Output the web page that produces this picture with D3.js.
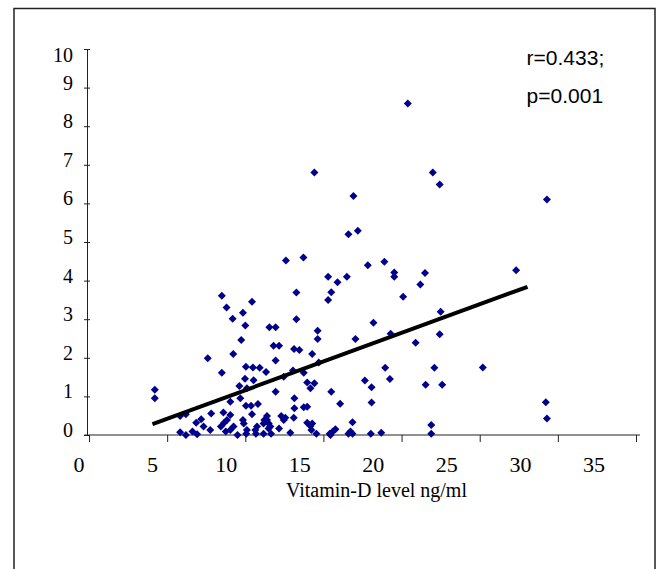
<!DOCTYPE html>
<html>
<head>
    <meta charset="utf-8">
    <title>Vitamin-D level scatter</title>
    <style>
        body { margin: 0; background: #fff; }
    </style>
</head>
<body>
    <svg class="chart"></svg>
    <script src="https://cdn.jsdelivr.net/npm/d3@7/dist/d3.min.js"></script>
    <script>
        var width = 659, height = 569

        // vitamin-D level (ng/ml) of each subject
        const vitD = [
            20.4, 14.42, 22.0, 22.44, 16.92, 29.3, 16.6, 17.2, 12.6, 13.72,
            17.84, 18.9, 19.53, 19.53, 21.5, 27.33, 15.3, 16.5, 15.9, 21.2,
            15.5, 15.3, 20.1, 22.5, 18.2, 19.3, 22.44, 20.9, 17.05, 18.95,
            22.1, 25.2, 17.65, 19.25, 18.08, 21.54, 22.6, 18.08, 29.23, 29.3,
            21.9, 21.9, 18.03, 18.7, 15.5, 16.07, 16.86, 16.73, 16.86, 16.6,
            15.77, 15.45, 15.6,
            8.5, 8.8, 9.85, 9.19, 10.0, 10.43, 9.74, 9.23, 7.6, 8.5,
            10.04, 10.49, 10.92, 11.33, 9.98, 10.53, 9.62, 10.1, 11.94, 11.54,
            11.94, 11.81, 12.16, 11.94, 12.46, 13.27, 13.27, 13.12, 13.46, 14.28,
            14.63, 14.63, 13.05, 13.74, 13.96, 14.17, 14.42, 14.7, 4.21, 4.21,
            9.68, 10.04, 10.37, 10.81, 9.04, 7.82, 8.6, 9.04, 7.18, 6.86,
            6.2, 5.83, 7.33, 7.76, 6.92, 6.2, 5.83, 6.62, 8.44, 8.65,
            8.83, 9.25, 9.04, 9.5, 9.85, 9.9, 10.1, 10.06, 10.43, 10.75,
            10.68, 11.17, 11.39, 11.39, 11.5, 11.6, 11.65, 12.16, 12.3, 12.56,
            12.88, 13.1, 13.14, 13.14, 13.74, 13.96, 13.96, 14.17, 14.28, 14.55,
            15.4, 12.46, 11.22, 11.17, 11.49, 10.64, 14.23, 8.75
        ]
        // matching y values
        const outcome = [
            8.59, 6.80, 6.80, 6.49, 6.19, 6.10, 5.20, 5.29, 4.52, 4.60,
            4.40, 4.49, 4.21, 4.10, 4.20, 4.27, 4.10, 4.10, 3.96, 3.90,
            3.70, 3.50, 3.58, 3.19, 2.91, 2.62, 2.61, 2.39, 2.49, 1.74,
            1.74, 1.75, 1.41, 1.45, 1.24, 1.30, 1.30, 0.84, 0.85, 0.43,
            0.26, 0.03, 0.03, 0.06, 1.12, 0.81, 0.33, 0.09, 0.03, 0.03,
            0.15, 0.0, 0.09,
            3.61, 3.30, 3.17, 3.01, 2.84, 3.45, 2.46, 2.10, 1.99, 1.61,
            1.77, 1.75, 1.74, 1.63, 1.46, 1.42, 1.27, 1.21, 1.12, 2.79,
            2.79, 2.31, 2.31, 1.93, 1.51, 3.69, 3.00, 2.23, 2.20, 2.10,
            2.70, 2.49, 1.67, 1.61, 1.36, 1.21, 1.34, 1.88, 1.17, 0.95,
            0.95, 0.76, 0.76, 0.80, 0.86, 0.56, 0.58, 0.52, 0.41, 0.32,
            0.54, 0.49, 0.22, 0.13, 0.02, 0.0, 0.07, 0.09, 0.22, 0.32,
            0.39, 0.22, 0.13, 0.0, 0.39, 0.30, 0.13, 0.03, 0.54, 0.22,
            0.03, 0.03, 0.39, 0.49, 0.30, 0.22, 0.03, 0.17, 0.49, 0.45,
            0.06, 0.45, 0.69, 0.95, 0.72, 0.73, 0.32, 0.23, 0.30, 0.03,
            0.03, 0.39, 0.39, 0.30, 0.17, 0.13, 0.13, 0.09
        ]

        // fitted trend line end points
        const fitX = [4.06, 28.06]
        const fitY = [0.28, 3.84]

        const xTicks = [0, 5, 10, 15, 20, 25, 30, 35]
        const yTicks = [0, 1, 2, 3, 4, 5, 6, 7, 8, 9, 10]
        const stats = ["r=0.433;", "p=0.001"]

        var svg = d3.select(".chart")
            .attr("width", width)
            .attr("height", height)

        // outer frame
        svg.append("rect")
            .attr("x", 14)
            .attr("y", 8.5)
            .attr("width", 641)
            .attr("height", 580)
            .attr("fill", "none")
            .attr("stroke", "#222")
            .attr("stroke-width", 1.5)

        var x = d3.scaleLinear().domain([0, 35]).range([89, 636])
        var y = d3.scaleLinear().domain([0, 10]).range([435, 49])
        // the tick labels sit a little off the tick marks in the original
        var xLabel = d3.scaleLinear().domain([0, 35]).range([79, 594])

        // x axis
        var gx = svg.append("g")
            .attr("transform", `translate(0, ${y(0)})`)
            .call(d3.axisBottom(x).tickValues(xTicks).tickSize(7).tickFormat(""))
        gx.select(".domain").remove()
        gx.selectAll(".tick line").attr("stroke", "#222")
        gx.append("line")
            .attr("x1", x(-0.3))
            .attr("x2", x(35.25))
            .attr("stroke", "#222")
            .attr("stroke-width", 1.2)

        svg.append("g")
            .selectAll("text")
            .data(xTicks)
            .enter()
            .append("text")
            .attr("x", d => xLabel(d))
            .attr("y", y(0) + 37)
            .attr("text-anchor", "middle")
            .style("font-family", "'Liberation Serif', 'Times New Roman', serif")
            .style("font-size", "22px")
            .text(d => d)

        // y axis
        var gy = svg.append("g")
            .attr("transform", `translate(${x(0) - 2}, 0)`)
            .call(d3.axisLeft(y).tickValues(yTicks).tickSizeOuter(0).tickSize(3))
        gy.select(".domain").attr("stroke", "#222")
        gy.selectAll(".tick line").attr("x1", 3).attr("x2", -3).attr("stroke", "#222")
        gy.selectAll(".tick text")
            .attr("x", -14)
            .attr("dy", d => d === 10 ? "0.62em" : "0.07em")
            .attr("fill", "#000")
            .style("font-family", "'Liberation Serif', 'Times New Roman', serif")
            .style("font-size", "20px")

        // points
        var pts = vitD.map((v, i) => ({ v: v, o: outcome[i] }))
        svg.append("g")
            .selectAll("path")
            .data(pts)
            .enter()
            .append("path")
            .attr("d", d3.symbol().type(d3.symbolSquare).size(32))
            .attr("transform", d => `translate(${x(d.v)}, ${y(d.o)}) rotate(45)`)
            .attr("fill", "#00008b")

        // trend line
        svg.append("line")
            .attr("x1", x(fitX[0]))
            .attr("y1", y(fitY[0]))
            .attr("x2", x(fitX[1]))
            .attr("y2", y(fitY[1]))
            .attr("stroke", "#000")
            .attr("stroke-width", 4)

        // axis title
        svg.append("text")
            .attr("x", (x(0) + x(35)) / 2 + 14)
            .attr("y", 497)
            .attr("text-anchor", "middle")
            .style("font-family", "'Liberation Serif', 'Times New Roman', serif")
            .style("font-size", "20px")
            .text("Vitamin-D level ng/ml")

        // correlation text
        svg.append("g")
            .selectAll("text")
            .data(stats)
            .enter()
            .append("text")
            .attr("x", x(28))
            .attr("y", (d, i) => 65 + i * 38)
            .style("font-family", "'Liberation Sans', Arial, sans-serif")
            .style("font-size", "21px")
            .text(d => d)
    </script>
</body>
</html>
